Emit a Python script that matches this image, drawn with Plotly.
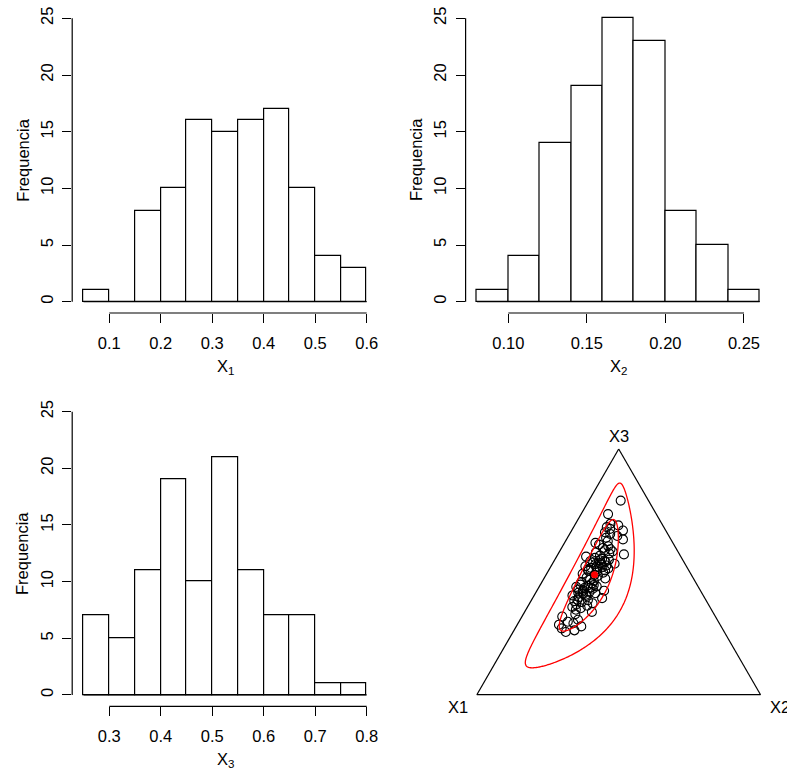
import numpy as np
import plotly.graph_objects as go

W, H = 787, 770

# ---------------- histogram data ----------------
x1_breaks = [0.05, 0.10, 0.15, 0.20, 0.25, 0.30, 0.35, 0.40, 0.45, 0.50, 0.55, 0.60]
x1_counts = [1, 0, 8, 10, 16, 15, 16, 17, 10, 4, 3]
x1_ticks = [0.1, 0.2, 0.3, 0.4, 0.5, 0.6]
x1_ticktext = ["0.1", "0.2", "0.3", "0.4", "0.5", "0.6"]

x2_breaks = [0.08, 0.10, 0.12, 0.14, 0.16, 0.18, 0.20, 0.22, 0.24, 0.26]
x2_counts = [1, 4, 14, 19, 25, 23, 8, 5, 1]
x2_ticks = [0.10, 0.15, 0.20, 0.25]
x2_ticktext = ["0.10", "0.15", "0.20", "0.25"]

x3_breaks = [0.25, 0.30, 0.35, 0.40, 0.45, 0.50, 0.55, 0.60, 0.65, 0.70, 0.75, 0.80]
x3_counts = [7, 5, 11, 19, 10, 21, 11, 7, 7, 1, 1]
x3_ticks = [0.3, 0.4, 0.5, 0.6, 0.7, 0.8]
x3_ticktext = ["0.3", "0.4", "0.5", "0.6", "0.7", "0.8"]

freq_ticks = [0, 5, 10, 15, 20, 25]

# ---------------- compositions (X1, X2, X3) ----------------
comp_x3 = [0.255, 0.262, 0.270, 0.278, 0.285, 0.291, 0.297, 0.305, 0.318, 0.328,
           0.337, 0.346, 0.352, 0.357, 0.362, 0.367, 0.372, 0.377, 0.381, 0.385,
           0.387, 0.393, 0.397, 0.402, 0.404, 0.407, 0.410, 0.413, 0.415, 0.418,
           0.420, 0.423, 0.426, 0.428, 0.431, 0.434, 0.436, 0.439, 0.441, 0.444,
           0.446, 0.448, 0.453, 0.458, 0.463, 0.468, 0.473, 0.478, 0.483, 0.488,
           0.492, 0.497, 0.502, 0.504, 0.506, 0.509, 0.511, 0.514, 0.516, 0.519,
           0.521, 0.523, 0.526, 0.528, 0.531, 0.533, 0.536, 0.538, 0.541, 0.543,
           0.545, 0.547, 0.549, 0.553, 0.557, 0.562, 0.566, 0.571, 0.575, 0.579,
           0.583, 0.588, 0.592, 0.597, 0.604, 0.611, 0.618, 0.625, 0.632, 0.639,
           0.646, 0.654, 0.661, 0.668, 0.675, 0.682, 0.689, 0.696, 0.735, 0.790]
comp_x2 = [0.186, 0.213, 0.164, 0.229, 0.147, 0.195, 0.172, 0.204, 0.142, 0.183,
           0.237, 0.176, 0.190, 0.158, 0.208, 0.167, 0.222, 0.181, 0.153, 0.199,
           0.161, 0.245, 0.161, 0.185, 0.135, 0.181, 0.170, 0.211, 0.150, 0.188,
           0.163, 0.237, 0.161, 0.144, 0.193, 0.162, 0.183, 0.131, 0.202, 0.168,
           0.189, 0.141, 0.179, 0.139, 0.181, 0.165, 0.216, 0.148, 0.185, 0.171,
           0.127, 0.197, 0.174, 0.141, 0.199, 0.137, 0.169, 0.206, 0.145, 0.183,
           0.162, 0.121, 0.194, 0.175, 0.152, 0.219, 0.166, 0.141, 0.183, 0.128,
           0.177, 0.159, 0.191, 0.165, 0.138, 0.104, 0.151, 0.233, 0.179, 0.130,
           0.187, 0.157, 0.175, 0.146, 0.161, 0.125, 0.109, 0.149, 0.199, 0.136,
           0.172, 0.143, 0.121, 0.181, 0.132, 0.117, 0.154, 0.123, 0.095, 0.112]
comp_x1 = [0.559, 0.525, 0.566, 0.493, 0.568, 0.514, 0.531, 0.491, 0.540, 0.489,
           0.426, 0.478, 0.458, 0.485, 0.430, 0.466, 0.406, 0.442, 0.466, 0.416,
           0.452, 0.362, 0.442, 0.413, 0.461, 0.412, 0.420, 0.376, 0.435, 0.394,
           0.417, 0.340, 0.413, 0.428, 0.376, 0.404, 0.381, 0.430, 0.357, 0.388,
           0.365, 0.411, 0.368, 0.403, 0.356, 0.367, 0.311, 0.374, 0.332, 0.341,
           0.381, 0.306, 0.324, 0.355, 0.295, 0.354, 0.320, 0.280, 0.339, 0.298,
           0.317, 0.356, 0.280, 0.297, 0.317, 0.248, 0.298, 0.321, 0.276, 0.329,
           0.278, 0.294, 0.260, 0.282, 0.305, 0.334, 0.283, 0.196, 0.246, 0.291,
           0.230, 0.255, 0.233, 0.257, 0.235, 0.264, 0.273, 0.226, 0.169, 0.225,
           0.182, 0.203, 0.218, 0.151, 0.193, 0.201, 0.157, 0.181, 0.170, 0.098]

R_INNER = 2.0
R_OUTER = 4.0

# ---------------- log-ratio ellipses ----------------
X = np.column_stack([comp_x1, comp_x2, comp_x3])
X = X / X.sum(axis=1, keepdims=True)
V = np.array([[1 / np.sqrt(2), 1 / np.sqrt(6)],
              [-1 / np.sqrt(2), 1 / np.sqrt(6)],
              [0.0, -2 / np.sqrt(6)]])
lx = np.log(X)
clr = lx - lx.mean(axis=1, keepdims=True)
Z = clr @ V
m = Z.mean(axis=0)
S = np.cov(Z.T)
L = np.linalg.cholesky(S)


def ilr_inv(z):
    c = np.exp(z @ V.T)
    return c / c.sum(axis=-1, keepdims=True)


t = np.linspace(0, 2 * np.pi, 361)
circ = np.vstack([np.cos(t), np.sin(t)])


def ellipse(r):
    e = m[None, :] + r * (L @ circ).T
    return ilr_inv(e)


ell_in = ellipse(R_INNER)
ell_out = ellipse(R_OUTER)
center = ilr_inv(m[None, :])[0]

# ---------------- figure ----------------
FONT = "Liberation Sans, Arial, sans-serif"
FS = 16.5
LW = 1.2

fig = go.Figure()


def px(p):
    return p / W


def py(p):
    return 1 - p / H


def hist_traces(breaks, counts, xa, ya):
    b = np.array(breaks)
    mids = (b[:-1] + b[1:]) / 2
    widths = b[1:] - b[:-1]
    fig.add_trace(go.Bar(x=mids, y=counts, width=widths,
                         marker=dict(color="white", line=dict(color="black", width=LW)),
                         xaxis=xa, yaxis=ya, showlegend=False, hoverinfo="skip"))


hist_traces(x1_breaks, x1_counts, "x", "y")
hist_traces(x2_breaks, x2_counts, "x2", "y2")
hist_traces(x3_breaks, x3_counts, "x3", "y3")

# panel geometry (pixel domains)
panels = [
    dict(xd=(72.2, 378.0), yd=(7.0, 313.0), xr=(0.028, 0.622), br=x1_breaks,
         tv=x1_ticks, tt=x1_ticktext, lab="X<sub>1</sub>"),
    dict(xd=(465.6, 771.0), yd=(7.0, 313.0), xr=(0.0728, 0.2672), br=x2_breaks,
         tv=x2_ticks, tt=x2_ticktext, lab="X<sub>2</sub>"),
    dict(xd=(72.2, 378.0), yd=(400.3, 706.3), xr=(0.228, 0.822), br=x3_breaks,
         tv=x3_ticks, tt=x3_ticktext, lab="X<sub>3</sub>"),
]

shapes = []
annotations = []
layout_axes = {}
for i, p in enumerate(panels):
    sfx = "" if i == 0 else str(i + 1)
    layout_axes["xaxis" + sfx] = dict(
        domain=[px(p["xd"][0]), px(p["xd"][1])], range=list(p["xr"]),
        anchor="y" + sfx, tickvals=p["tv"], ticktext=p["tt"],
        ticks="outside", ticklen=9, tickwidth=LW, tickcolor="black",
        showline=False, zeroline=False, showgrid=False,
        tickfont=dict(family=FONT, size=FS, color="black"),
        ticklabelstandoff=6, fixedrange=True)
    layout_axes["yaxis" + sfx] = dict(
        domain=[py(p["yd"][1]), py(p["yd"][0])], range=[-1, 26],
        anchor="x" + sfx, tickvals=freq_ticks, ticktext=[str(v) for v in freq_ticks],
        tickangle=-90, ticks="outside", ticklen=9, tickwidth=LW, tickcolor="black",
        showline=False, zeroline=False, showgrid=False,
        tickfont=dict(family=FONT, size=FS, color="black"),
        ticklabelstandoff=3, fixedrange=True)
    xr = "x" + sfx
    yr = "y" + sfx
    # x axis line from first to last tick
    shapes.append(dict(type="line", xref=xr, yref=yr + " domain",
                       x0=p["tv"][0], x1=p["tv"][-1], y0=0, y1=0,
                       line=dict(color="black", width=LW)))
    # y axis line
    shapes.append(dict(type="line", xref=xr + " domain", yref=yr,
                       x0=0, x1=0, y0=freq_ticks[0], y1=freq_ticks[-1],
                       line=dict(color="black", width=LW)))
    # histogram baseline
    shapes.append(dict(type="line", xref=xr, yref=yr,
                       x0=p["br"][0], x1=p["br"][-1], y0=0, y1=0,
                       line=dict(color="black", width=LW)))
    # axis titles
    xc = (p["xd"][0] + p["xd"][1]) / 2
    annotations.append(dict(text=p["lab"], x=px(xc), y=py(p["yd"][1] + 54),
                            xref="paper", yref="paper", showarrow=False,
                            xanchor="center", yanchor="middle",
                            font=dict(family=FONT, size=FS, color="black")))
    yc = (p["yd"][0] + p["yd"][1]) / 2
    annotations.append(dict(text="Frequencia", x=px(p["xd"][0] - 49.5), y=py(yc),
                            xref="paper", yref="paper", showarrow=False, textangle=-90,
                            xanchor="center", yanchor="middle",
                            font=dict(family=FONT, size=FS, color="black")))

# ---------------- ternary panel ----------------
tern_axis = dict(showline=True, linecolor="black", linewidth=LW, showgrid=False,
                 showticklabels=False, ticks="", title=dict(text=""))
fig.add_trace(go.Scatterternary(a=comp_x3, b=comp_x1, c=comp_x2, mode="markers",
                                marker=dict(symbol="circle-open", size=9, color="black",
                                            line=dict(width=1.1)),
                                showlegend=False, hoverinfo="skip", subplot="ternary"))
for ell in (ell_out, ell_in):
    fig.add_trace(go.Scatterternary(a=ell[:, 2], b=ell[:, 0], c=ell[:, 1], mode="lines",
                                    line=dict(color="red", width=1.3),
                                    showlegend=False, hoverinfo="skip", subplot="ternary"))
fig.add_trace(go.Scatterternary(a=[center[2]], b=[center[0]], c=[center[1]], mode="markers",
                                marker=dict(symbol="circle", size=7, color="red"),
                                showlegend=False, hoverinfo="skip", subplot="ternary"))

for txt, x, y, xa in [("X3", 619, 436, "center"), ("X1", 458, 707, "center"),
                      ("X2", 768.3, 707, "left")]:
    annotations.append(dict(text=txt, x=px(x), y=py(y), xref="paper", yref="paper",
                            showarrow=False, xanchor=xa, yanchor="middle",
                            font=dict(family=FONT, size=FS, color="black")))

fig.update_layout(
    width=W, height=H, margin=dict(l=0, r=0, t=0, b=0),
    paper_bgcolor="white", plot_bgcolor="white", template="none",
    showlegend=False, bargap=0,
    shapes=shapes, annotations=annotations,
    ternary=dict(domain=dict(x=[px(476.7), px(760.7)], y=[py(694.7), py(449.0)]),
                 sum=1, bgcolor="white",
                 aaxis=tern_axis, baxis=tern_axis, caxis=tern_axis),
    **layout_axes,
)

fig.write_html("out.html", config={"displayModeBar": False},
               post_script="document.body.style.margin='0px';document.body.style.overflow='hidden';")
